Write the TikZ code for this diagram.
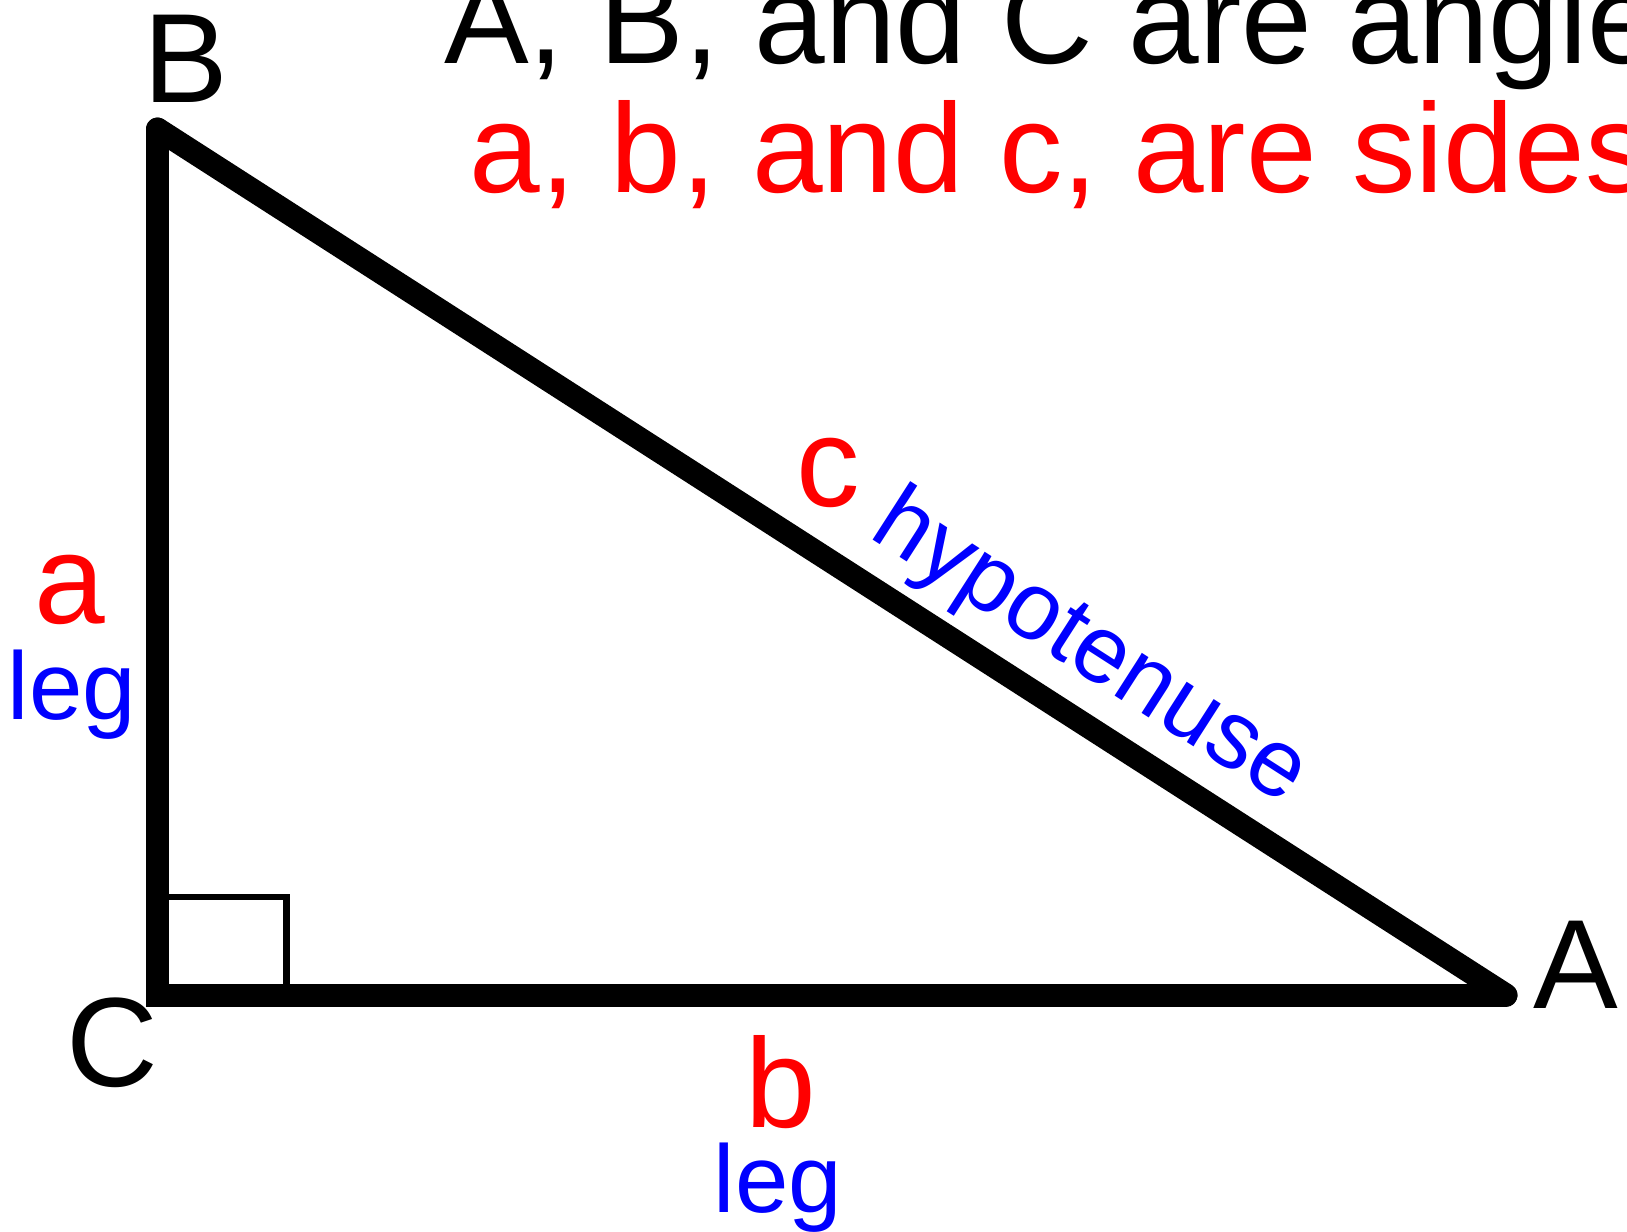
\documentclass[tikz,border=0pt]{standalone}
\usepackage{fontspec}
\setmainfont{Liberation Sans}
\begin{document}
\begin{tikzpicture}[x=1pt,y=1pt,
  big/.style={inner sep=0pt, anchor=base, font=\fontsize{127}{127}\selectfont},
  small/.style={inner sep=0pt, anchor=base, font=\fontsize{96}{96}\selectfont, text=blue},
  side/.style={line width=23pt}]
\useasboundingbox (0,0) rectangle (1627,-1231);
\clip (0,0) rectangle (1627,-1231);
\coordinate (C) at (157.5,-995);
\coordinate (B) at (157.5,-129);
\coordinate (A) at (1506,-995);
\coordinate (Q) at (286.5,-897);
\draw[line width=6.5pt] (C |- Q) -- (Q) -- (Q |- C);
\draw[side, line join=miter, line cap=round] (B) -- (C) -- (A);
\draw[side, line cap=round] (B) -- (A);
\node[big] (lB) at (186,-102) {B};
\node[big] (lC) at (112,-1086) {C};
\node[big] (lA) at (1576,-1008) {A};
\node[big, text=red] (la) at (70,-623) {a};
\node[small] (lla) at (72,-719) {leg};
\node[big, text=red] (lb) at (781,-1127) {b};
\node[small] (llb) at (778,-1212) {leg};
\node[big, text=red] (lc) at (828,-506) {c};
\node[small, rotate=-32.7] (lh) at (1076,-671) {hypotenuse};
\node[big, anchor=base west] (t1) at (444,-63.3) {A, B, and C are angles};
\node[big, anchor=base west, text=red] (t2) at (469.5,-192.7) {a, b, and c, are sides};
\end{tikzpicture}
\end{document}
